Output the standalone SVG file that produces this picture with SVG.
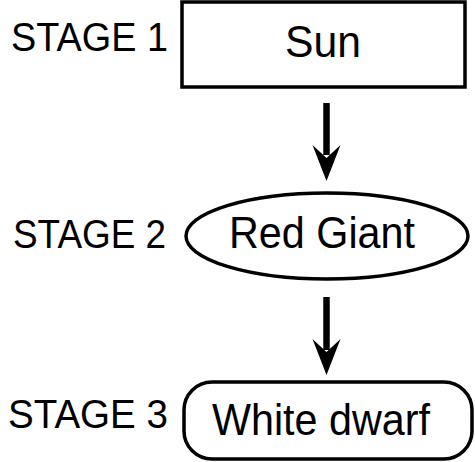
<svg xmlns="http://www.w3.org/2000/svg" width="475" height="462" viewBox="0 0 475 462">
<style>
.lbl{font-family:"Liberation Sans",Arial,sans-serif;font-size:41px;fill:#000}
.txt{font-family:"Liberation Sans",Arial,sans-serif;font-size:44px;fill:#000}
.shape{fill:#fff;stroke:#000;stroke-width:3.5}
.shaft{stroke:#000;stroke-width:6.5}
</style>
<defs>
<path id="head" d="M-14,0 L0,36 L14,0 L0,13 Z" fill="#000"/>
</defs>
<g id="labels">
<text class="lbl" x="11" y="51" textLength="157" lengthAdjust="spacingAndGlyphs">STAGE 1</text>
<text class="lbl" x="13" y="248" textLength="153" lengthAdjust="spacingAndGlyphs">STAGE 2</text>
<text class="lbl" x="8" y="428" textLength="160" lengthAdjust="spacingAndGlyphs">STAGE 3</text>
</g>
<g id="node-sun">
<rect class="shape" x="182" y="2" width="283" height="85"/>
<text class="txt" x="285" y="57" textLength="76" lengthAdjust="spacingAndGlyphs">Sun</text>
</g>
<g id="node-redgiant">
<ellipse class="shape" cx="327" cy="236" rx="141" ry="43"/>
<text class="txt" x="229" y="248" textLength="186" lengthAdjust="spacingAndGlyphs">Red Giant</text>
</g>
<g id="node-whitedwarf">
<rect class="shape" x="184" y="382" width="288" height="77" rx="28" ry="28"/>
<text class="txt" x="212" y="435" textLength="218" lengthAdjust="spacingAndGlyphs">White dwarf</text>
</g>
<g id="connectors">
<line class="shaft" x1="326.5" y1="103" x2="326.5" y2="155"/>
<use href="#head" x="326.5" y="145"/>
<line class="shaft" x1="326.5" y1="297" x2="326.5" y2="350"/>
<use href="#head" x="326.5" y="339"/>
</g>
</svg>
